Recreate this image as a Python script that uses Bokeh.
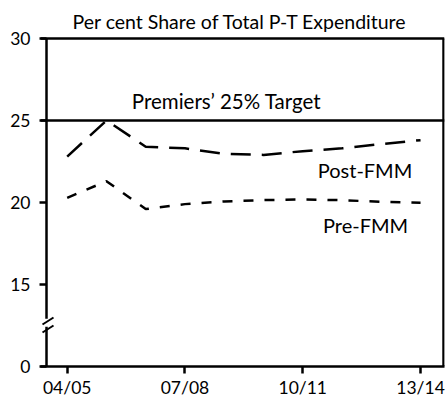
from bokeh.plotting import figure
from bokeh.models import FixedTicker, Span, Label, PolyAnnotation
from bokeh.embed import file_html
from bokeh.resources import INLINE

# ---- data ----
years = ["04/05", "05/06", "06/07", "07/08", "08/09", "09/10", "10/11", "11/12", "12/13", "13/14"]
post_fmm = [22.8, 25.0, 23.4, 23.3, 22.97, 22.9, 23.13, 23.3, 23.56, 23.8]
pre_fmm = [20.28, 21.3, 19.6, 19.9, 20.06, 20.15, 20.18, 20.14, 20.04, 19.98]
target = 25
y_ticks = [10, 15, 20, 25, 30]
y_tick_labels = ["0", "15", "20", "25", "30"]
x_tick_idx = [0, 3, 6, 9]

# ---- layout constants (frame box drawn by hand so the axis can be broken) ----
X_START, X_END = -0.680, 9.610
Y_START, Y_END = 10, 30.242
BOX_LEFT, BOX_RIGHT, BOX_TOP, BOX_BOTTOM = -0.527, 9.585, 30, 10
BREAK_LO, BREAK_HI = 12.42, 12.91

FONT = "Lato"
x = list(range(len(years)))

p = figure(width=446, height=400, x_range=(X_START, X_END), y_range=(Y_START, Y_END),
           output_backend="svg", toolbar_location=None,
           min_border_left=40, min_border_right=2, min_border_top=34, min_border_bottom=32)
p.background_fill_color = "white"
p.border_fill_color = "white"
p.outline_line_color = None
p.xgrid.visible = False
p.ygrid.visible = False

p.title.text = "Per cent Share of Total P-T Expenditure"
p.title.text_font = FONT
p.title.text_font_size = "19.5px"
p.title.text_font_style = "normal"
p.title.text_color = "black"
p.title.align = "left"
p.title.offset = 32
p.title.standoff = 3

for ax in (p.xaxis[0], p.yaxis[0]):
    ax.major_tick_line_width = 2.5
    ax.major_tick_line_color = "black"
    ax.minor_tick_line_color = None
    ax.major_label_text_font = FONT
    ax.major_label_text_font_size = "17.5px"
    ax.major_label_text_color = "black"

p.xaxis.axis_line_width = 2.5
p.xaxis.axis_line_color = "black"
p.xaxis.major_tick_in = 0
p.xaxis.major_tick_out = 7
p.xaxis.ticker = FixedTicker(ticks=x_tick_idx)
p.xaxis.major_label_overrides = {i: years[i] for i in x_tick_idx}
p.xaxis.major_label_standoff = 3

p.yaxis.axis_line_color = None
p.yaxis.major_tick_in = 6
p.yaxis.major_tick_out = 1
p.yaxis.ticker = FixedTicker(ticks=y_ticks)
p.yaxis.major_label_overrides = {t: l for t, l in zip(y_ticks, y_tick_labels)}
p.yaxis.major_label_standoff = 9

# frame box: top, right, and broken left side
p.add_layout(Span(location=BOX_TOP, dimension="width", line_color="black", line_width=2.5))
p.segment(x0=[BOX_RIGHT, BOX_LEFT, BOX_LEFT], y0=[BOX_BOTTOM, BOX_TOP, BREAK_LO],
          x1=[BOX_RIGHT, BOX_LEFT, BOX_LEFT], y1=[BOX_TOP, BREAK_HI, BOX_BOTTOM],
          line_color="black", line_width=2.5)

# axis break slashes
for ys in ([324, 317], [332, 325]):
    p.add_layout(PolyAnnotation(xs=[42, 53], ys=ys, xs_units="canvas", ys_units="canvas",
                                line_color="black", line_alpha=1, line_width=2,
                                fill_alpha=0, level="overlay"))

# target line
p.add_layout(Span(location=target, dimension="width", line_color="black", line_width=2.5))

# series
p.line(x, post_fmm, line_color="black", line_width=2.5, line_dash="20 11")
p.line(x, pre_fmm, line_color="black", line_width=2.5, line_dash="10 11")

# labels
lab_kw = dict(text_font=FONT, text_color="black", text_align="center", text_baseline="alphabetic")
p.add_layout(Label(x=4.06, y=target, y_offset=19, text="Premiers\u2019 25% Target", text_font_size="20.5px", **lab_kw))
p.add_layout(Label(x=7.585, y=21.98, text="Post-FMM", text_font_size="20px", **lab_kw))
p.add_layout(Label(x=7.6, y=18.65, text="Pre-FMM", text_font_size="20px", **lab_kw))

open("out.html", "w").write(file_html(p, INLINE))
